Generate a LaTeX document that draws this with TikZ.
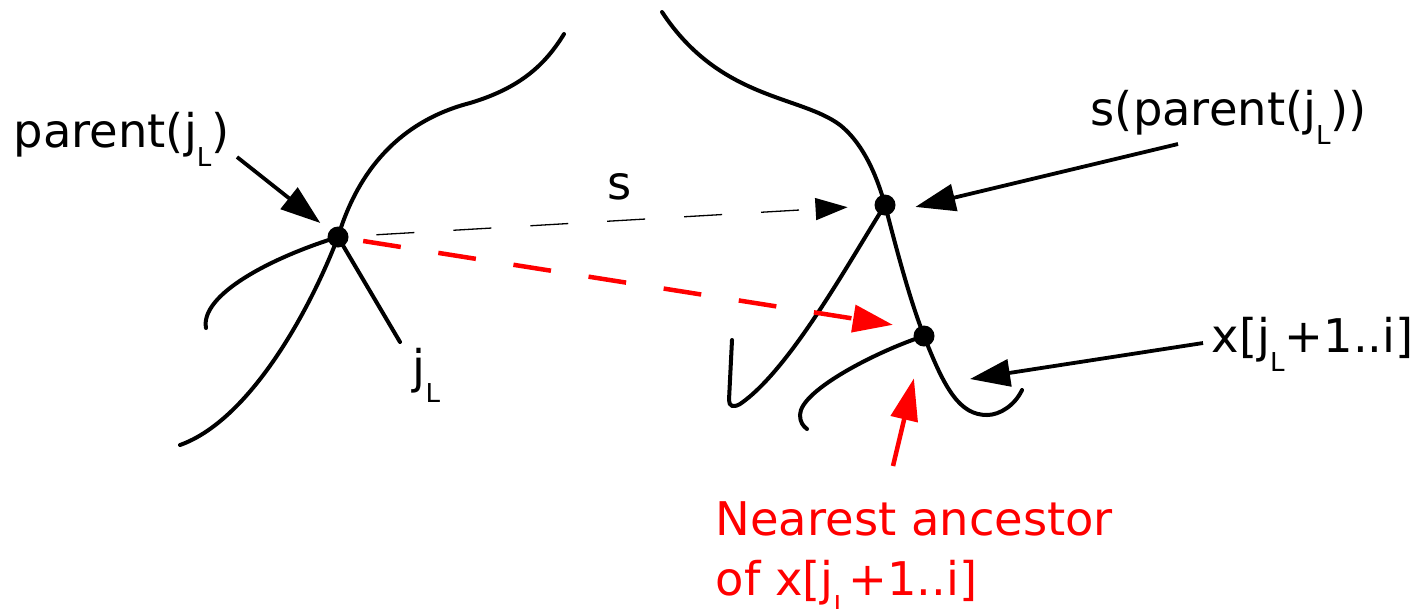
\documentclass[tikz,border=0pt]{standalone}
\usepackage{fontspec}
\setmainfont{DejaVu Sans}
\usetikzlibrary{arrows.meta}
\definecolor{Red}{RGB}{255,0,0}
\newcommand{\jL}{j\raisebox{-5.4pt}{\fontsize{7.4}{8}\selectfont L}}
\tikzset{
  vertex/.style={circle,fill=black,inner sep=0pt,outer sep=0pt,minimum size=0.21cm},
  branch/.style={line width=0.04cm,line cap=round},
  lbl/.style={font=\fontsize{13.2}{16.8}\selectfont,inner sep=0pt},
  pointer/.style={-{Triangle[length=0.4cm,width=0.27cm]},line width=0.038cm},
  redpointer/.style={-{Triangle[length=0.42cm,width=0.27cm]},draw=Red,line width=0.045cm},
  slink/.style={-{Triangle[length=0.32cm,width=0.22cm]},line width=0.013cm,dash pattern=on 0.38cm off 0.39cm},
  redlink/.style={-{Triangle[length=0.4cm,width=0.27cm]},draw=Red,line width=0.045cm,dash pattern=on 0.38cm off 0.38cm}
}
\begin{document}
\begin{tikzpicture}[x=0.01cm,y=-0.01cm]
\useasboundingbox (0,0) rectangle (1428,608);
\coordinate (A) at (237,157);
\coordinate (B) at (1178,144);
\coordinate (C) at (1203,343);
\coordinate (Ctip) at (970,379);
\coordinate (D) at (893,466);

\node[vertex] (P) at (338,237) {};
\node[vertex] (S) at (885,205) {};
\node[vertex] (N) at (924,336) {};

\draw[branch](564,34) .. controls (545,65) and (520,88) .. (470,103) .. controls (385,125) and (352,190) .. (P.center) .. controls (310,310) and (250,420) .. (180,445);
\draw[branch](P.center) .. controls (270,258) and (200,295) .. (206,328);
\draw[branch](P.center) -- (400,342);
\draw[branch](662,12) .. controls (720,100) and (800,95) .. (840,125) .. controls (865,145) and (878,180) .. (S.center);
\draw[branch](S.center) .. controls (898,255) and (910,300) .. (N.center);
\draw[branch](N.center) .. controls (945,390) and (960,415) .. (987,415) .. controls (1000,415) and (1015,405) .. (1022,390);
\draw[branch](S.center) .. controls (850,260) and (790,370) .. (740,404) .. controls (733,408) and (729,406) .. (729,400) -- (732,340);
\draw[branch](N.center) .. controls (880,350) and (800,390) .. (800,415) .. controls (800,422) and (803,426) .. (807,429);

\draw[slink,shorten <=0.28cm,shorten >=0.27cm](P)--(S);
\draw[redlink,shorten <=0.15cm,shorten >=0.24cm](P)--(N.north west);
\draw[pointer,shorten >=0.12cm](A)--(P);
\draw[pointer,shorten >=0.236cm](B)--(S.south east);
\draw[pointer](C)--(Ctip);
\draw[redpointer,shorten >=0.33cm](D)--(N);

\node[lbl,anchor=base west] (plab) at (13,147) {parent(\jL)};
\node[lbl,anchor=base west] (jlab) at (412,383) {\jL};
\node[lbl,anchor=base west] (slab) at (607,199) {s};
\node[lbl,anchor=base west] (splab) at (1090,125) {s(parent(\jL))};
\node[lbl,anchor=base west] (xlab) at (1211,352) {x[\jL+1..i]};
\node[lbl,anchor=base west,text=Red,align=left] (nlab) at (715,595) {Nearest ancestor\\of x[\jL+1..i]};
\end{tikzpicture}
\end{document}
